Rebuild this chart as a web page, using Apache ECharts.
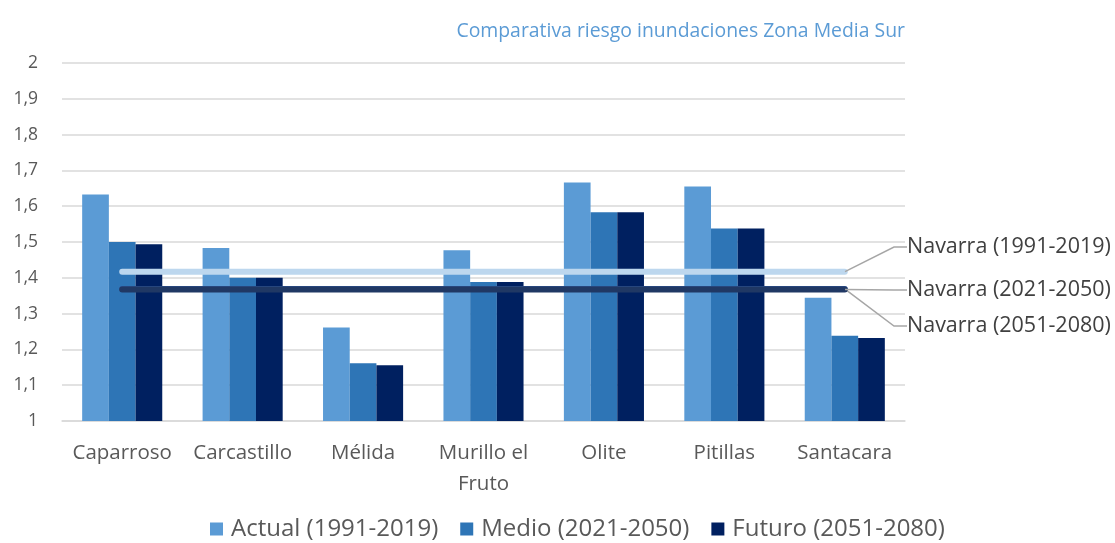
<!DOCTYPE html>
<html>
<head>
<meta charset="utf-8">
<script src="https://cdn.jsdelivr.net/npm/echarts@6/dist/echarts.min.js"></script>
<style>html,body{margin:0;padding:0;background:#fff}#c{width:1115px;height:543px}</style>
</head>
<body>
<div id="c"></div>
<script>
var categories = ['Caparroso', 'Carcastillo', 'Mélida', 'Murillo el\nFruto', 'Olite', 'Pitillas', 'Santacara'];
var actual = [1.633, 1.483, 1.261, 1.477, 1.666, 1.655, 1.344];
var medio  = [1.500, 1.400, 1.161, 1.388, 1.583, 1.538, 1.238];
var futuro = [1.494, 1.400, 1.156, 1.388, 1.583, 1.538, 1.232];
var navarra1991 = 1.417;
var navarra2021 = 1.367;
var navarra2051 = 1.369;
var yTicks = ['1', '1,1', '1,2', '1,3', '1,4', '1,5', '1,6', '1,7', '1,8', '1,9', '2'];

var FONT = 'Open Sans';
function flat(v, name) {
  return categories.map(function (c, i) {
    if (i === categories.length - 1) {
      return { value: v, label: { show: true, formatter: name }, labelLine: { show: true } };
    }
    return v;
  });
}
function navLine(name, v, color, ly, z) {
  return {
    name: name, type: 'line', data: flat(v, name), z: z,
    symbol: 'circle', symbolSize: 0.5, showSymbol: true,
    itemStyle: { color: color },
    lineStyle: { color: color, width: 6, cap: 'round' },
    label: { show: false, position: 'right', fontFamily: FONT, fontSize: 21.5, color: '#404040', padding: [0, 0, 0, 2] },
    labelLine: { show: true, length2: 13, lineStyle: { color: '#a6a6a6', width: 1.5 } },
    labelLayout: { x: 905, y: ly, align: 'left', verticalAlign: 'middle' },
    emphasis: { disabled: true }, silent: true
  };
}
var chart = echarts.init(document.getElementById('c'));
chart.setOption({
  animation: false,
  title: {
    text: 'Comparativa riesgo inundaciones Zona Media Sur',
    right: 205, top: 17,
    textStyle: { fontFamily: FONT, fontSize: 19.4, fontWeight: 'normal', color: '#5b9bd5' }
  },
  grid: { left: 62, right: 210, top: 63, bottom: 122, containLabel: false },
  legend: {
    data: ['Actual (1991-2019)', 'Medio (2021-2050)', 'Futuro (2051-2080)'],
    top: 512, left: 205,
    itemWidth: 13, itemHeight: 13, itemGap: 22,
    icon: 'rect',
    textStyle: { fontFamily: FONT, fontSize: 24, color: '#595959', padding: [0, 0, 0, 3] }
  },
  xAxis: {
    type: 'category', data: categories,
    axisTick: { show: false },
    axisLine: { lineStyle: { color: '#d9d9d9', width: 1.5 } },
    axisLabel: { fontFamily: FONT, fontSize: 20.5, color: '#595959', margin: 17, lineHeight: 31, interval: 0 }
  },
  yAxis: {
    type: 'value', min: 1, max: 2, interval: 0.1,
    axisLine: { show: false }, axisTick: { show: false },
    splitLine: { lineStyle: { color: '#d9d9d9', width: 1.5 } },
    axisLabel: {
      fontFamily: FONT, fontSize: 17.5, color: '#595959', margin: 24,
      formatter: function (v) { return yTicks[Math.round((v - 1) * 10)]; }
    }
  },
  series: [
    { name: 'Actual (1991-2019)', type: 'bar', data: actual, barGap: '0%', barCategoryGap: '33.5%', itemStyle: { color: '#5b9bd5' } },
    { name: 'Medio (2021-2050)', type: 'bar', data: medio, itemStyle: { color: '#2e75b6' } },
    { name: 'Futuro (2051-2080)', type: 'bar', data: futuro, itemStyle: { color: '#002060' } },
    navLine('Navarra (1991-2019)', navarra1991, '#bdd7ee', 247, 5),
    navLine('Navarra (2051-2080)', navarra2051, '#2f5597', 326, 5),
    navLine('Navarra (2021-2050)', navarra2021, '#203864', 290, 6)
  ]
});
</script>
</body>
</html>
